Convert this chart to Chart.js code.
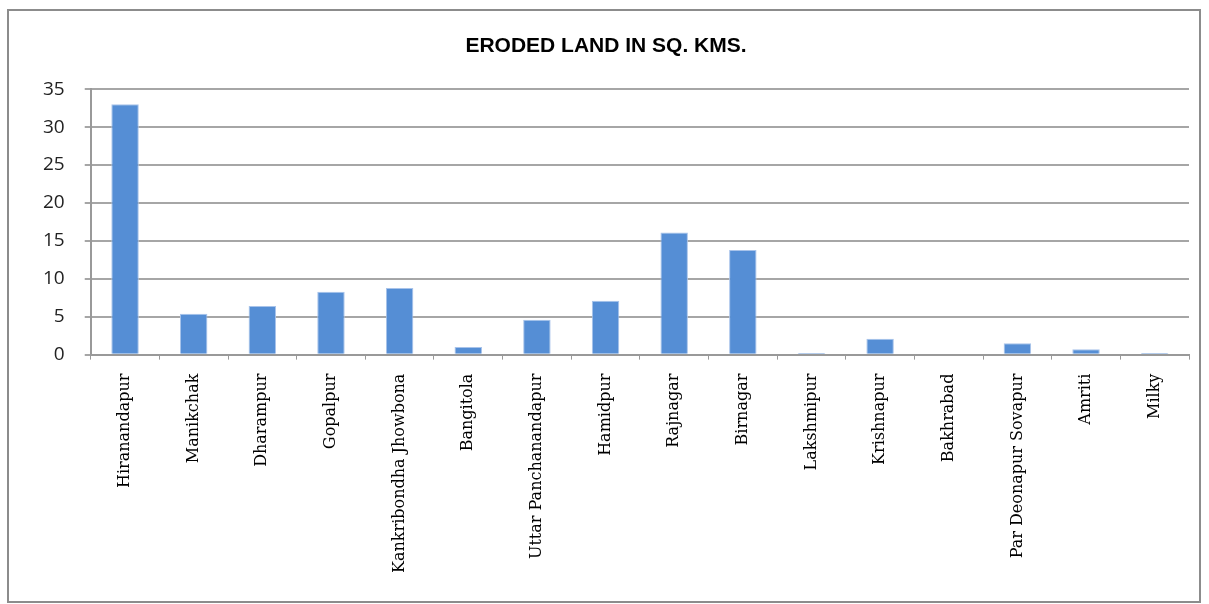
<!DOCTYPE html>
<html lang="en">
<head>
  <meta charset="UTF-8">
  <title>Eroded land</title>
  <style>
    html, body { margin: 0; padding: 0; background: #fff; }
    #wrap { width: 1209px; height: 604px; }
  </style>
</head>
<body>
  <div id="wrap"><canvas id="myChart" width="1209" height="604"></canvas></div>
  <script src="https://cdn.jsdelivr.net/npm/chart.js"></script>
  <script>
    const places = ['Hiranandapur', 'Manikchak', 'Dharampur', 'Gopalpur', 'Kankribondha Jhowbona', 'Bangitola',
      'Uttar Panchanandapur', 'Hamidpur', 'Rajnagar', 'Birnagar', 'Lakshmipur', 'Krishnapur', 'Bakhrabad',
      'Par Deonapur Sovapur', 'Amriti', 'Milky']
    const erodedLand = [33, 5.4, 6.4, 8.3, 8.8, 1.0, 4.6, 7.1, 16.1, 13.8, 0.2, 2.1, 0, 1.5, 0.7, 0.2]
    const yTicks = [0, 5, 10, 15, 20, 25, 30, 35]

    // outer frame like the spreadsheet chart border
    const frame = {
      id: 'frame',
      beforeDraw(chart) {
        const c = chart.ctx
        c.save()
        c.strokeStyle = '#8c8c8c'
        c.lineWidth = 2
        c.strokeRect(8, 10, 1192, 592)
        c.restore()
      }
    }

    const ctx = document.getElementById('myChart')
    new Chart(ctx, {
      type: 'bar',
      data: {
        labels: places,
        datasets: [{
          label: 'Eroded land',
          data: erodedLand,
          backgroundColor: '#558ed5',
          borderColor: '#a8c3ea',
          borderWidth: 1,
          categoryPercentage: 1,
          barPercentage: 0.4
        }]
      },
      options: {
        responsive: false,
        animation: false,
        layout: { padding: { left: 23, right: 20, top: 34, bottom: 17 } },
        plugins: {
          legend: { display: false },
          tooltip: { enabled: false },
          title: {
            display: true,
            text: 'ERODED LAND IN SQ. KMS.',
            color: '#000',
            font: { family: 'Liberation Sans', size: 21, weight: 'bold' },
            padding: { top: 0, bottom: 30 }
          }
        },
        scales: {
          x: {
            grid: { display: true, drawOnChartArea: false, color: '#999', tickLength: 5, offset: true },
            border: { color: '#999', width: 2 },
            ticks: {
              color: '#000',
              font: { family: 'DejaVu Serif', size: 16 },
              minRotation: 90,
              maxRotation: 90,
              autoSkip: false,
              padding: 14
            }
          },
          y: {
            min: 0,
            max: 35,
            afterBuildTicks: axis => { axis.ticks = yTicks.map(v => ({ value: v })) },
            grid: { color: '#a6a6a6', lineWidth: 2, tickLength: 6 },
            border: { color: '#999', width: 2 },
            ticks: {
              color: '#222',
              font: { family: 'Open Sans', size: 19 },
              padding: 20
            }
          }
        }
      },
      plugins: [frame]
    })
  </script>
</body>
</html>
